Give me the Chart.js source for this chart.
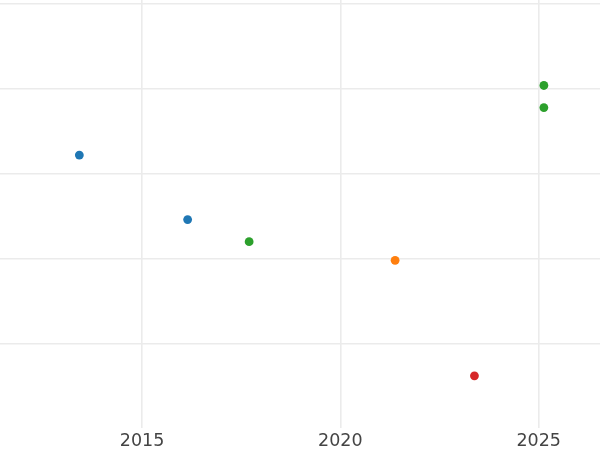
<!DOCTYPE html>
<html>
<head>
<meta charset="utf-8">
<script src="https://cdn.jsdelivr.net/npm/chart.js@4/dist/chart.umd.min.js"></script>
<style>
html,body{margin:0;padding:0;background:#fff;}
#wrap{width:600px;height:450px;}
</style>
</head>
<body>
<div id="wrap"><canvas id="c" width="600" height="450"></canvas></div>
<script>
const xTicks = [2015, 2020, 2025];
const yGrid = [1, 2, 3, 4, 5];
const blueX = [2013.42, 2016.15];
const blueY = [3.22, 2.46];
const greenX = [2017.70, 2025.13, 2025.13];
const greenY = [2.20, 4.04, 3.78];
const orangeX = [2021.38];
const orangeY = [1.98];
const redX = [2023.38];
const redY = [0.62];

const pts = (xs, ys) => xs.map((x, i) => ({x: x, y: ys[i]}));
const ds = (xs, ys, color) => ({
  data: pts(xs, ys),
  backgroundColor: color,
  borderColor: color,
  pointRadius: 4.4,
  pointBorderWidth: 0,
  pointHoverRadius: 4.4
});

new Chart(document.getElementById('c'), {
  type: 'scatter',
  data: {
    datasets: [
      ds(blueX, blueY, '#1f77b4'),
      ds(greenX, greenY, '#2ca02c'),
      ds(orangeX, orangeY, '#ff7f0e'),
      ds(redX, redY, '#d62728')
    ]
  },
  options: {
    responsive: false,
    animation: false,
    layout: {padding: {top: 0, left: 0, right: 0, bottom: -6}, autoPadding: false},
    plugins: {legend: {display: false}, tooltip: {enabled: false}},
    scales: {
      x: {
        type: 'linear',
        min: 2011.42,
        max: 2026.545,
        afterBuildTicks: (axis) => { axis.ticks = xTicks.map(v => ({value: v})); },
        grid: {color: '#ebebeb', lineWidth: 1.6, drawTicks: false},
        border: {display: false},
        ticks: {
          padding: 3.7,
          color: '#444444',
          font: {family: 'DejaVu Sans', size: 17.5},
          callback: (v) => String(v)
        }
      },
      y: {
        type: 'linear',
        min: 0.01,
        max: 5.047,
        afterBuildTicks: (axis) => { axis.ticks = yGrid.map(v => ({value: v})); },
        grid: {color: '#ebebeb', lineWidth: 1.6, drawTicks: false},
        border: {display: false},
        ticks: {display: false}
      }
    }
  }
});
</script>
</body>
</html>
